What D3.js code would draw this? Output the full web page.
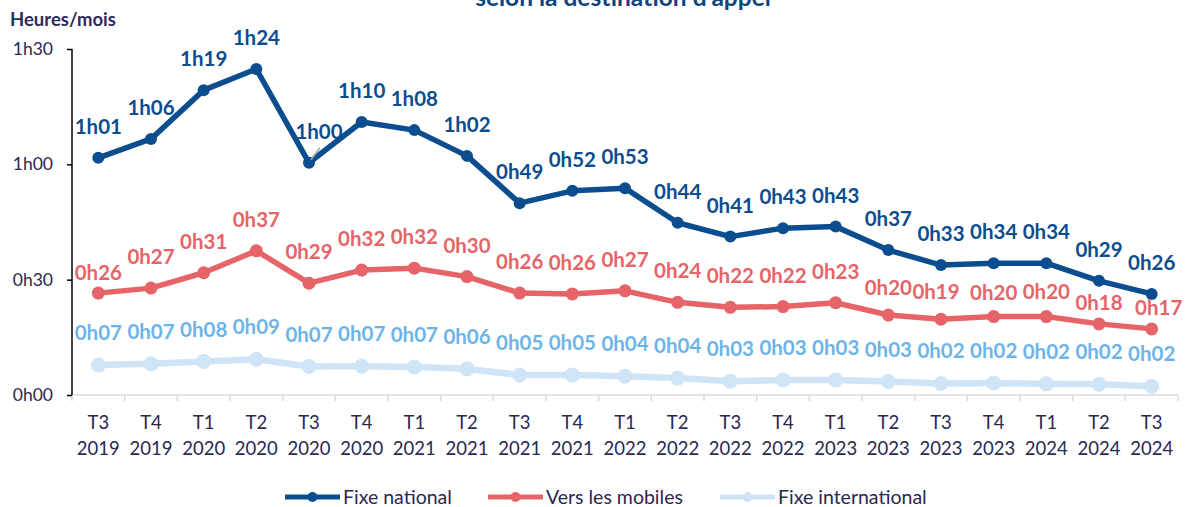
<!DOCTYPE html>
<meta charset="utf-8">
<style>
    body { margin: 0; background: #fff; }
    svg { font-family: Lato, "Open Sans", sans-serif; }
    .lbl { font-weight: bold; font-size: 20.5px; text-anchor: middle; }
    .tick text { fill: #2a2852; }
</style>
<svg width="1186" height="507"></svg>
<script src="https://d3js.org/d3.v7.min.js"></script>
<script>

    // trimestres
    var quarters = ["T3", "T4", "T1", "T2", "T3", "T4", "T1", "T2", "T3", "T4", "T1",
        "T2", "T3", "T4", "T1", "T2", "T3", "T4", "T1", "T2", "T3"];
    var years = ["2019", "2019", "2020", "2020", "2020", "2020", "2021", "2021", "2021", "2021", "2022",
        "2022", "2022", "2022", "2023", "2023", "2023", "2023", "2024", "2024", "2024"];

    // minutes par mois
    var fixeNational = [61.7, 66.6, 79.3, 84.8, 60.4, 71.0, 68.9, 62.2, 49.9, 53.1, 53.8,
        44.8, 41.2, 43.4, 43.8, 37.7, 33.8, 34.3, 34.3, 29.7, 26.3];
    var versMobiles = [26.5, 27.8, 31.8, 37.5, 29.1, 32.5, 33.0, 30.8, 26.5, 26.3, 27.1,
        24.1, 22.8, 23.0, 24.0, 20.8, 19.7, 20.4, 20.4, 18.5, 17.2];
    var fixeInternational = [7.8, 8.1, 8.7, 9.3, 7.4, 7.5, 7.3, 6.8, 5.2, 5.2, 4.9,
        4.4, 3.6, 3.9, 3.9, 3.5, 3.0, 3.1, 2.9, 2.8, 2.3];

    // étiquettes affichées
    var labelsNational = ["1h01", "1h06", "1h19", "1h24", "1h00", "1h10", "1h08", "1h02", "0h49", "0h52", "0h53",
        "0h44", "0h41", "0h43", "0h43", "0h37", "0h33", "0h34", "0h34", "0h29", "0h26"];
    var labelsMobiles = ["0h26", "0h27", "0h31", "0h37", "0h29", "0h32", "0h32", "0h30", "0h26", "0h26", "0h27",
        "0h24", "0h22", "0h22", "0h23", "0h20", "0h19", "0h20", "0h20", "0h18", "0h17"];
    var labelsInternational = ["0h07", "0h07", "0h08", "0h09", "0h07", "0h07", "0h07", "0h06", "0h05", "0h05", "0h04",
        "0h04", "0h03", "0h03", "0h03", "0h03", "0h02", "0h02", "0h02", "0h02", "0h02"];

    var yTicks = [0, 30, 60, 90];

    var svg = d3.select("svg");
    var textColor = "#2a2852";

    var x = d3.scaleBand()
        .domain(d3.range(quarters.length))
        .range([72, 1178]);

    var y = d3.scaleLinear()
        .domain([0, 90])
        .range([395, 49]);

    function cx(i) { return x(i) + x.bandwidth() / 2; }

    function fmt(m) {
        var h = Math.floor(m / 60), mm = m % 60;
        return h + "h" + (mm < 10 ? "0" : "") + mm;
    }

    // titre (coupé en haut, comme dans l'original)
    svg.append("text")
        .attr("x", 623)
        .attr("y", 6)
        .attr("text-anchor", "middle")
        .attr("font-weight", "bold")
        .attr("font-size", "24.5px")
        .attr("fill", "#0e4580")
        .text("selon la destination d'appel");

    svg.append("text")
        .attr("x", 10)
        .attr("y", 26)
        .attr("font-weight", "bold")
        .attr("font-size", "18.5px")
        .attr("fill", "#2e2a5c")
        .text("Heures/mois");

    // axe x
    var gx = svg.append("g");
    gx.append("line")
        .attr("x1", 72).attr("x2", 1178)
        .attr("y1", 395).attr("y2", 395)
        .attr("stroke", "#d9d9d9").attr("stroke-width", 1.5);
    gx.selectAll(".xt")
        .data(d3.range(quarters.length + 1))
        .enter().append("line")
        .attr("x1", function (d) { return 72 + d * x.bandwidth(); })
        .attr("x2", function (d) { return 72 + d * x.bandwidth(); })
        .attr("y1", 395).attr("y2", 401)
        .attr("stroke", "#d9d9d9").attr("stroke-width", 1.5);
    gx.selectAll(".xq")
        .data(quarters)
        .enter().append("text")
        .attr("x", function (d, i) { return cx(i); })
        .attr("y", 429)
        .attr("text-anchor", "middle")
        .attr("font-size", "18.5px")
        .attr("fill", textColor)
        .text(function (d) { return d; });
    gx.selectAll(".xy")
        .data(years)
        .enter().append("text")
        .attr("x", function (d, i) { return cx(i); })
        .attr("y", 455)
        .attr("text-anchor", "middle")
        .attr("font-size", "18.5px")
        .attr("fill", textColor)
        .text(function (d) { return d; });

    // axe y
    var gy = svg.append("g")
        .attr("transform", "translate(72,0)")
        .call(d3.axisLeft(y)
            .tickValues(yTicks)
            .tickSize(5)
            .tickPadding(14)
            .tickFormat(fmt));
    gy.selectAll("text").attr("font-size", "17.5px").attr("font-family", "Lato, sans-serif");
    gy.selectAll("line, path").attr("stroke", "#000").attr("stroke-width", 1.5);
    gy.select(".domain").attr("d", "M0,49V395");

    var series = [
        { name: "Fixe national", values: fixeNational, labels: labelsNational, color: "#0b4d8e", label: "#0b4d8e", width: 5.5, r: 6 },
        { name: "Vers les mobiles", values: versMobiles, labels: labelsMobiles, color: "#e66467", label: "#e66467", width: 5.5, r: 6.5 },
        { name: "Fixe international", values: fixeInternational, labels: labelsInternational, color: "#cfe4f6", label: "#6cb4e8", width: 6.5, r: 7.5 }
    ];

    // décalages des étiquettes (placement Excel)
    var lift = {
        "Fixe national": function (i) { return 31; },
        "Vers les mobiles": function (i) {
            var l = { 0: 20, 15: 27, 16: 27, 17: 24, 18: 25, 19: 21, 20: 21 };
            return l[i] !== undefined ? l[i] : 31;
        },
        "Fixe international": function (i) { return 32; }
    };
    var shift = { "Fixe national": { 4: 10 }, "Vers les mobiles": { 16: -5, 20: 7 } };

    var line = d3.line()
        .x(function (d, i) { return cx(i); })
        .y(function (d) { return y(d); });

    // des lignes de l'arrière vers l'avant
    series.slice().reverse().forEach(function (s) {
        var g = svg.append("g");
        g.append("path")
            .datum(s.values)
            .attr("fill", "none")
            .attr("stroke", s.color)
            .attr("stroke-width", s.width)
            .attr("stroke-linejoin", "round")
            .attr("d", line);
        g.selectAll("circle")
            .data(s.values)
            .enter().append("circle")
            .attr("cx", function (d, i) { return cx(i); })
            .attr("cy", function (d) { return y(d); })
            .attr("r", s.r)
            .attr("fill", s.color);
    });

    // trait de rappel pour 1h00
    svg.append("line")
        .attr("x1", cx(4) + 2).attr("y1", y(fixeNational[4]) - 3)
        .attr("x2", cx(4) + 11).attr("y2", y(fixeNational[4]) - 15)
        .attr("stroke", "#a6a6a6").attr("stroke-width", 1.5);

    series.forEach(function (s) {
        svg.append("g").selectAll("text")
            .data(s.labels)
            .enter().append("text")
            .attr("class", "lbl")
            .attr("x", function (d, i) { return cx(i) + ((shift[s.name] || {})[i] || 0); })
            .attr("y", function (d, i) { return y(s.values[i]) - lift[s.name](i) + 7; })
            .attr("fill", s.label)
            .text(function (d) { return d; });
    });

    // légende
    var legendX = [285, 488, 720];
    var lg = svg.append("g").selectAll("g")
        .data(series)
        .enter().append("g")
        .attr("transform", function (d, i) { return "translate(" + legendX[i] + ",497)"; });
    lg.append("line")
        .attr("x1", 0).attr("x2", 55)
        .attr("stroke", function (d) { return d.color; })
        .attr("stroke-width", 5);
    lg.append("circle")
        .attr("cx", 27.5)
        .attr("r", 5)
        .attr("fill", function (d) { return d.color; });
    lg.append("text")
        .attr("x", 58)
        .attr("y", 6.5)
        .attr("font-size", "19.5px")
        .attr("fill", textColor)
        .text(function (d) { return d.name; });

</script>
